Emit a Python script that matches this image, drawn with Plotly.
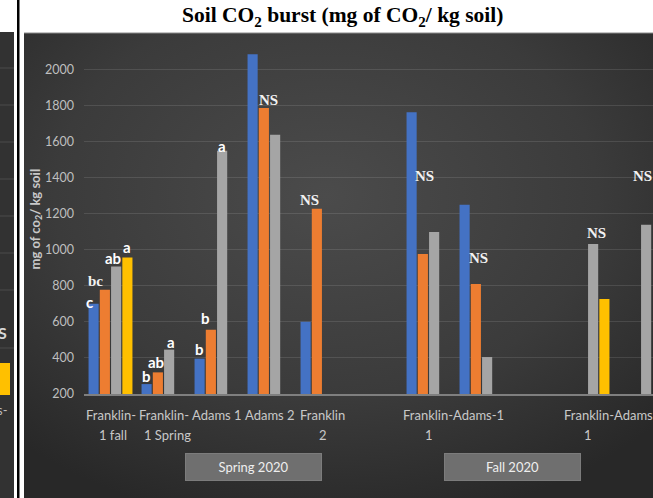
import base64
import plotly.graph_objects as go

# ---------------- data ----------------
categories = ["Franklin-1 fall", "Franklin-1 Spring", "Adams 1", "Adams 2", "Franklin 2", "",
              "Franklin-Adams-1 1", "Franklin-Adams-1 1b", "", "Franklin-Adams 1", "Franklin-Adams 1b"]
series_names = ["Series 1", "Series 2", "Series 3", "Series 4"]
blue_vals = [700, 255, 396, 2085, 601, None, 1763, 1250, None, None, None]
orange_vals = [778, 320, 556, 1786, 1227, None, 976, 810, None, None, None]
gray_vals = [907, 446, 1549, 1638, None, None, 1098, 405, None, 1032, 1139]
yellow_vals = [957, None, None, None, None, None, None, None, None, 727, None]

sig_blue = ["c", "b", "b", "", "", "", "", "", "", "", ""]
sig_orange = ["bc", "ab", "b", "NS", "NS", "", "NS", "NS", "", "", ""]
sig_gray = ["ab", "a", "a", "", "", "", "", "", "", "NS", "NS"]
sig_yellow = ["a", "", "", "", "", "", "", "", "", "", ""]

label_line1 = ["Franklin-", "Franklin-", "Adams 1", "Adams 2", "Franklin", "Franklin-Adams-1", "Franklin-Adams-1"]
label_line2 = ["1 fall", "1 Spring", "", "", "2", "1", "1"]
season_labels = ["Spring 2020", "Fall 2020"]
y_ticks = [200, 400, 600, 800, 1000, 1200, 1400, 1600, 1800, 2000]

# ---------------- styling / geometry ----------------
W_FIG, H_FIG = 653, 498
L, R, T, B = 84, 653, 34, 394
PW, PH = R - L, B - T

def px(x):
    return (x - L) / PW

def py(y):
    return (B - y) / PH

colors = ["#4472c4", "#ed7d31", "#a5a5a5", "#ffc000"]
BARGAP = 0.15
slot = (1 - BARGAP) / 4
slot_off = [(-1.5 + i) * slot for i in range(4)]

# label placement styling (x shift px, y shift px above bar top, font kind)
sig_style = {
    (0, 0): (-4, 2, "sans"), (0, 1): (-9, 9, "serif"), (0, 2): (-3, 9, "sans"), (0, 3): (0, 10.5, "sans"),
    (1, 0): (0, 8.5, "sans"), (1, 1): (-2, 10, "sans"), (1, 2): (2, 7.5, "sans"),
    (2, 0): (0, 10, "sans"), (2, 1): (-5, 11.5, "sans"), (2, 2): (0, 4.5, "sans"),
    (3, 1): (4.6, 8.5, "serif"), (4, 1): (-7, 9, "serif"),
    (6, 1): (2, 78, "serif"), (7, 1): (3, 26.5, "serif"),
    (9, 2): (3.5, 11.5, "serif"), (10, 2): (-3.6, 49, "serif"),
}

xs = list(range(len(categories)))
fig = go.Figure()
for name, vals, col in zip(series_names, [blue_vals, orange_vals, gray_vals, yellow_vals], colors):
    fig.add_trace(go.Bar(x=xs, y=vals, name=name, marker=dict(color=col, line=dict(width=0)),
                         hoverinfo="y"))

annotations = []
# significance letters
for si, (sig, vals) in enumerate(zip([sig_blue, sig_orange, sig_gray, sig_yellow],
                                      [blue_vals, orange_vals, gray_vals, yellow_vals])):
    for ci, t in enumerate(sig):
        if not t or vals[ci] is None:
            continue
        dx, dy, kind = sig_style.get((ci, si), (0, 8, "sans"))
        if kind == "serif":
            font = dict(family="Liberation Serif", size=15, color="#f2f2f2")
        else:
            font = dict(family="Lato", size=15, color="#ffffff")
        annotations.append(dict(x=ci + slot_off[si], y=vals[ci], xref="x", yref="y",
                                text="<b>%s</b>" % t, showarrow=False, font=font,
                                xanchor="center", yanchor="middle", xshift=dx, yshift=dy))

# category labels
line1_pos = [0, 1, 2, 3, 4, 6.47, 9.5]
line2_pos = [0.04, 1.08, 2, 3, 4, 6, 9]
lab_font = dict(family="Lato", size=13, color="#c8c8c8")
for t, p in zip(label_line1, line1_pos):
    annotations.append(dict(x=p, y=py(415), xref="x", yref="paper", text=t, showarrow=False,
                            font=lab_font, xanchor="center", yanchor="middle"))
for t, p in zip(label_line2, line2_pos):
    if t:
        annotations.append(dict(x=p, y=py(435), xref="x", yref="paper", text=t, showarrow=False,
                                font=lab_font, xanchor="center", yanchor="middle"))

# season boxes
for t, cx in zip(season_labels, [253.5, 512.5]):
    annotations.append(dict(x=px(cx), y=py(467), xref="paper", yref="paper", text=t, showarrow=False,
                            font=dict(family="Lato", size=13, color="#eeeeee"),
                            bgcolor="#6f6f6f", bordercolor="#7c7c7c", borderwidth=1, borderpad=0,
                            width=135, height=26, xanchor="center", yanchor="middle"))

# title
annotations.append(dict(x=px(342), y=py(17), xref="paper", yref="paper",
                        text="<b>Soil CO<sub>2</sub> burst (mg of CO<sub>2</sub>/ kg soil)</b>",
                        showarrow=False, font=dict(family="Liberation Serif", size=21.5, color="#000000"),
                        xanchor="center", yanchor="middle"))
# y-axis title
annotations.append(dict(x=px(35.5), y=py(219), xref="paper", yref="paper",
                        text="<b>mg of co<sub>2</sub>/ kg soil</b>", textangle=-90, showarrow=False,
                        font=dict(family="Lato", size=13, color="#c8c8c8"),
                        xanchor="center", yanchor="middle"))
# fragments of neighbouring panel
annotations.append(dict(x=px(9), y=py(332), xref="paper", yref="paper", text="<b>S</b>", showarrow=False,
                        font=dict(family="Lato", size=16, color="#d8d8d8"), xanchor="right", yanchor="middle"))
annotations.append(dict(x=px(10), y=py(410), xref="paper", yref="paper", text="s-", showarrow=False,
                        font=dict(family="Lato", size=13, color="#bdbdbd"), xanchor="right", yanchor="middle"))

# background gradient for chart area
svg = ("<svg xmlns='http://www.w3.org/2000/svg' width='629' height='465' preserveAspectRatio='none'>"
       "<defs><radialGradient id='g' cx='48%' cy='35%' r='72%'>"
       "<stop offset='0' stop-color='#4b4b4b'/><stop offset='0.6' stop-color='#3b3b3b'/>"
       "<stop offset='1' stop-color='#282828'/></radialGradient></defs>"
       "<rect width='100%' height='100%' fill='url(#g)'/></svg>")
src = "data:image/svg+xml;base64," + base64.b64encode(svg.encode()).decode()
svg2 = ("<svg xmlns='http://www.w3.org/2000/svg' width='14' height='466'>"
        "<rect width='100%' height='100%' fill='#323232'/></svg>")
src2 = "data:image/svg+xml;base64," + base64.b64encode(svg2.encode()).decode()

images = [
    dict(source=src, xref="paper", yref="paper", x=px(24), y=py(33), sizex=(653 - 24) / PW,
         sizey=(498 - 33) / PH, xanchor="left", yanchor="top", sizing="stretch", layer="below"),
    dict(source=src2, xref="paper", yref="paper", x=px(0), y=py(32), sizex=14 / PW,
         sizey=(498 - 32) / PH, xanchor="left", yanchor="top", sizing="stretch", layer="below"),
]

shapes = [
    # chart border top
    dict(type="line", xref="paper", yref="paper", x0=px(24), x1=px(653), y0=py(33), y1=py(33),
         line=dict(color="#8a8a8a", width=1), layer="below"),
    # black separator
    dict(type="rect", xref="paper", yref="paper", x0=px(17), x1=px(19.5), y0=py(0), y1=py(498),
         fillcolor="#000000", line=dict(width=0), layer="above"),
    # neighbouring panel bar fragment
    dict(type="rect", xref="paper", yref="paper", x0=px(0), x1=px(10), y0=py(395), y1=py(363),
         fillcolor="#ffc000", line=dict(width=0), layer="above"),
]
for gy in [68, 105, 142, 179, 216, 253, 290, 348]:
    shapes.append(dict(type="line", xref="paper", yref="paper", x0=px(0), x1=px(14), y0=py(gy), y1=py(gy),
                       line=dict(color="#4a4a4a", width=1), layer="above"))

fig.update_layout(
    width=W_FIG, height=H_FIG,
    margin=dict(l=L, r=W_FIG - R, t=T, b=H_FIG - B, autoexpand=False),
    paper_bgcolor="#ffffff", plot_bgcolor="rgba(0,0,0,0)",
    barmode="group", bargap=BARGAP, bargroupgap=0.1,
    showlegend=False,
    xaxis=dict(range=[-0.5, (R - 110.5) / 53.0], showticklabels=False, showgrid=False, zeroline=False,
               showline=True, linecolor="#7f7f7f", linewidth=1.5, fixedrange=True),
    yaxis=dict(range=[200, 2197], tickvals=y_ticks, showgrid=True, gridcolor="rgba(255,255,255,0.11)",
               gridwidth=1, zeroline=False, showline=False, ticks="",
               tickfont=dict(family="Lato", size=12.5, color="#bfbfbf"), ticklabelstandoff=9),
    annotations=annotations, shapes=shapes, images=images,
)

fig.write_html("out.html", config={"displayModeBar": False},
               post_script="document.body.style.margin='0';document.body.style.overflow='hidden';")
